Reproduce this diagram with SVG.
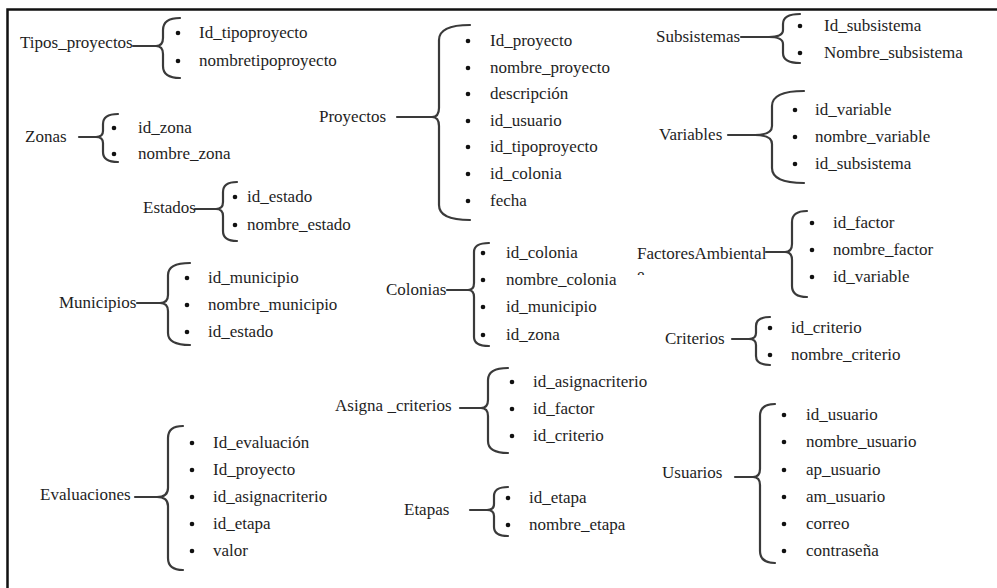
<svg xmlns="http://www.w3.org/2000/svg" width="997" height="588" viewBox="0 0 997 588">
  <style>
    text { font-family: "Liberation Serif", "Times New Roman", serif; font-size: 17px; fill: #1e1e1e; }
    .br { fill: none; stroke: #3a3a3a; stroke-width: 2.2; stroke-linecap: round; stroke-linejoin: round; }
    .dot { fill: #111; }
    .frame { stroke: #111; stroke-width: 2.5; fill: none; }
  </style>
  <defs>
    <clipPath id="cut-e"><rect x="630" y="262" width="20" height="13"/></clipPath>
  </defs>
  <rect width="997" height="588" fill="#fff"/>
  <!-- frame: top and left rules only -->
  <path class="frame" d="M7.5 588 V9.5 H997"/>

  <!-- braces with their stems -->
  <g id="connectors">
    <!-- Tipos_proyectos -->
    <path class="br" d="M133 46 H156"/>
    <path class="br" d="M180 18 Q163 18 163 30 V38 Q163 46 156 46 Q163 46 163 54 V66 Q163 78 180 78"/>
    <!-- Zonas -->
    <path class="br" d="M79 137 H96"/>
    <path class="br" d="M118 114 Q103 114 103 124 V131 Q103 137 96 137 Q103 137 103 143 V152 Q103 162 118 162"/>
    <!-- Estados -->
    <path class="br" d="M195 209 H216"/>
    <path class="br" d="M237 182 Q223 182 223 192 V202 Q223 209 216 209 Q223 209 223 216 V231 Q223 241 237 241"/>
    <!-- Municipios -->
    <path class="br" d="M137 303 H160"/>
    <path class="br" d="M190 263 Q168 263 168 275 V295 Q168 303 160 303 Q168 303 168 311 V333 Q168 345 190 345"/>
    <!-- Evaluaciones -->
    <path class="br" d="M135 497 H157"/>
    <path class="br" d="M183 426 Q168 426 168 438 V488 Q168 497 157 497 Q168 497 168 506 V558 Q168 570 183 570"/>
    <!-- Proyectos -->
    <path class="br" d="M397 117 H432"/>
    <path class="br" d="M470 25 Q439 25 439 40 V108 Q439 117 432 117 Q439 117 439 126 V205 Q439 220 470 220"/>
    <!-- Colonias -->
    <path class="br" d="M447 290 H468"/>
    <path class="br" d="M489 243 Q474 243 474 252 V283 Q474 290 468 290 Q474 290 474 297 V337 Q474 346 489 346"/>
    <!-- Asigna _criterios -->
    <path class="br" d="M460 408 H481"/>
    <path class="br" d="M508 368 Q488 368 488 380 V400 Q488 408 481 408 Q488 408 488 416 V441 Q488 453 508 453"/>
    <!-- Etapas -->
    <path class="br" d="M470 510 H487"/>
    <path class="br" d="M508 487 Q494 487 494 496 V504 Q494 510 487 510 Q494 510 494 516 V527 Q494 536 508 536"/>
    <!-- Subsistemas -->
    <path class="br" d="M741 37 H769"/>
    <path class="br" d="M800 14 Q783 14 783 24 V30 Q783 37 769 37 Q783 37 783 44 V53 Q783 63 800 63"/>
    <!-- Variables -->
    <path class="br" d="M728 135 H755"/>
    <path class="br" d="M804 91 Q772 91 772 106 V126 Q772 135 755 135 Q772 135 772 144 V168 Q772 183 804 183"/>
    <!-- FactoresAmbientale -->
    <path class="br" d="M766 252 H785"/>
    <path class="br" d="M807 211 Q792 211 792 222 V244 Q792 252 785 252 Q792 252 792 260 V286 Q792 297 807 297"/>
    <!-- Criterios -->
    <path class="br" d="M732 339 H749"/>
    <path class="br" d="M770 317 Q756 317 756 326 V333 Q756 339 749 339 Q756 339 756 345 V356 Q756 365 770 365"/>
    <!-- Usuarios -->
    <path class="br" d="M735 477 H753"/>
    <path class="br" d="M775 404 Q760 404 760 416 V469 Q760 477 753 477 Q760 477 760 485 V551 Q760 563 775 563"/>
  </g>

  <g id="tipos_proyectos">
    <text x="20" y="48">Tipos_proyectos</text>
    <circle class="dot" cx="178" cy="33" r="2.3"/><circle class="dot" cx="178" cy="61" r="2.3"/>
    <text x="199" y="38">Id_tipoproyecto</text>
    <text x="199" y="66">nombretipoproyecto</text>
  </g>

  <g id="zonas">
    <text x="25" y="142">Zonas</text>
    <circle class="dot" cx="114" cy="128" r="2.3"/><circle class="dot" cx="114" cy="154" r="2.3"/>
    <text x="138" y="133">id_zona</text>
    <text x="138" y="159">nombre_zona</text>
  </g>

  <g id="estados">
    <text x="143" y="213">Estados</text>
    <circle class="dot" cx="235" cy="197" r="2.3"/><circle class="dot" cx="235" cy="225" r="2.3"/>
    <text x="247" y="202">id_estado</text>
    <text x="247" y="230">nombre_estado</text>
  </g>

  <g id="municipios">
    <text x="59" y="308">Municipios</text>
    <circle class="dot" cx="187" cy="278" r="2.3"/><circle class="dot" cx="187" cy="305" r="2.3"/><circle class="dot" cx="187" cy="332" r="2.3"/>
    <text x="208" y="283">id_municipio</text>
    <text x="208" y="310">nombre_municipio</text>
    <text x="208" y="337">id_estado</text>
  </g>

  <g id="evaluaciones">
    <text x="40" y="500">Evaluaciones</text>
    <circle class="dot" cx="192" cy="443" r="2.3"/><circle class="dot" cx="192" cy="470" r="2.3"/><circle class="dot" cx="192" cy="497" r="2.3"/><circle class="dot" cx="192" cy="524" r="2.3"/><circle class="dot" cx="192" cy="551" r="2.3"/>
    <text x="213" y="448">Id_evaluación</text>
    <text x="213" y="475">Id_proyecto</text>
    <text x="213" y="502">id_asignacriterio</text>
    <text x="213" y="529">id_etapa</text>
    <text x="213" y="556">valor</text>
  </g>

  <g id="proyectos">
    <text x="319" y="122">Proyectos</text>
    <circle class="dot" cx="468" cy="41" r="2.3"/><circle class="dot" cx="468" cy="68" r="2.3"/><circle class="dot" cx="468" cy="94" r="2.3"/><circle class="dot" cx="468" cy="121" r="2.3"/><circle class="dot" cx="468" cy="147" r="2.3"/><circle class="dot" cx="468" cy="174" r="2.3"/><circle class="dot" cx="468" cy="201" r="2.3"/>
    <text x="490" y="46">Id_proyecto</text>
    <text x="490" y="73">nombre_proyecto</text>
    <text x="490" y="99">descripción</text>
    <text x="490" y="126">id_usuario</text>
    <text x="490" y="152">id_tipoproyecto</text>
    <text x="490" y="179">id_colonia</text>
    <text x="490" y="206">fecha</text>
  </g>

  <g id="colonias">
    <text x="386" y="295">Colonias</text>
    <circle class="dot" cx="483" cy="253" r="2.3"/><circle class="dot" cx="483" cy="280" r="2.3"/><circle class="dot" cx="483" cy="307" r="2.3"/><circle class="dot" cx="483" cy="335" r="2.3"/>
    <text x="506" y="258">id_colonia</text>
    <text x="506" y="285">nombre_colonia</text>
    <text x="506" y="312">id_municipio</text>
    <text x="506" y="340">id_zona</text>
  </g>

  <g id="asigna_criterios">
    <text x="335" y="411">Asigna _criterios</text>
    <circle class="dot" cx="512" cy="382" r="2.3"/><circle class="dot" cx="512" cy="409" r="2.3"/><circle class="dot" cx="512" cy="436" r="2.3"/>
    <text x="533" y="387">id_asignacriterio</text>
    <text x="533" y="414">id_factor</text>
    <text x="533" y="441">id_criterio</text>
  </g>

  <g id="etapas">
    <text x="404" y="515">Etapas</text>
    <circle class="dot" cx="508" cy="498" r="2.3"/><circle class="dot" cx="508" cy="525" r="2.3"/>
    <text x="529" y="503">id_etapa</text>
    <text x="529" y="530">nombre_etapa</text>
  </g>

  <g id="subsistemas">
    <text x="656" y="42">Subsistemas</text>
    <circle class="dot" cx="800" cy="26" r="2.3"/><circle class="dot" cx="800" cy="53" r="2.3"/>
    <text x="824" y="31">Id_subsistema</text>
    <text x="824" y="58">Nombre_subsistema</text>
  </g>

  <g id="variables">
    <text x="659" y="140">Variables</text>
    <circle class="dot" cx="795" cy="110" r="2.3"/><circle class="dot" cx="795" cy="137" r="2.3"/><circle class="dot" cx="795" cy="164" r="2.3"/>
    <text x="815" y="115">id_variable</text>
    <text x="815" y="142">nombre_variable</text>
    <text x="815" y="169">id_subsistema</text>
  </g>

  <g id="factores_ambientales">
    <text x="637" y="259">FactoresAmbiental</text>
    <!-- wrapped last letter, cut by the label box -->
    <text x="637" y="280" clip-path="url(#cut-e)">e</text>
    <circle class="dot" cx="812" cy="223" r="2.3"/><circle class="dot" cx="812" cy="250" r="2.3"/><circle class="dot" cx="812" cy="277" r="2.3"/>
    <text x="833" y="228">id_factor</text>
    <text x="833" y="255">nombre_factor</text>
    <text x="833" y="282">id_variable</text>
  </g>

  <g id="criterios">
    <text x="665" y="344">Criterios</text>
    <circle class="dot" cx="770" cy="328" r="2.3"/><circle class="dot" cx="770" cy="355" r="2.3"/>
    <text x="791" y="333">id_criterio</text>
    <text x="791" y="360">nombre_criterio</text>
  </g>

  <g id="usuarios">
    <text x="662" y="478">Usuarios</text>
    <circle class="dot" cx="784" cy="415" r="2.3"/><circle class="dot" cx="784" cy="442" r="2.3"/><circle class="dot" cx="784" cy="470" r="2.3"/><circle class="dot" cx="784" cy="497" r="2.3"/><circle class="dot" cx="784" cy="524" r="2.3"/><circle class="dot" cx="784" cy="551" r="2.3"/>
    <text x="806" y="420">id_usuario</text>
    <text x="806" y="447">nombre_usuario</text>
    <text x="806" y="475">ap_usuario</text>
    <text x="806" y="502">am_usuario</text>
    <text x="806" y="529">correo</text>
    <text x="806" y="556">contraseña</text>
  </g>
</svg>
